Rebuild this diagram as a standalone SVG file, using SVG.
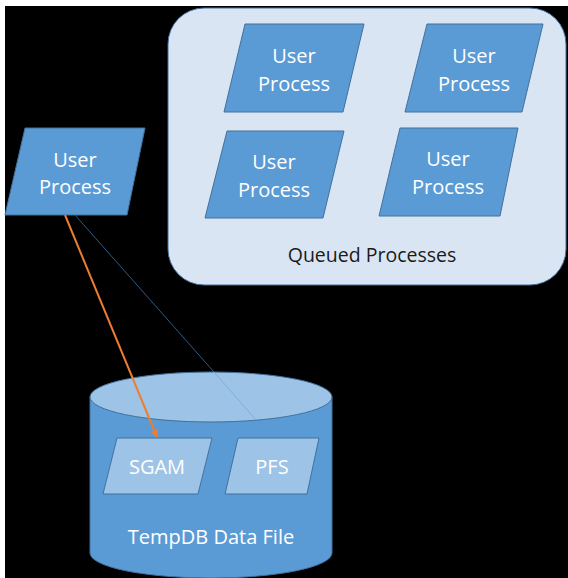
<svg xmlns="http://www.w3.org/2000/svg" width="568" height="578" viewBox="0 0 568 578">
  <defs>
    <style>
      .proc { fill: #5B9BD5; stroke: #41719C; stroke-width: 1; }
      .page { fill: #9DC3E6; stroke: #41719C; stroke-width: 1; }
      .lbl { font-family: "Open Sans", "Liberation Sans", sans-serif; font-size: 20px; fill: #FFFFFF; text-anchor: middle; }
      .dark { fill: #1A1A1A; font-size: 19.5px; }
    </style>
    <marker id="arrOrange" viewBox="0 0 10 10" refX="9" refY="5" markerWidth="4" markerHeight="4" orient="auto">
      <path d="M0,0 L10,5 L0,10 z" fill="#ED7D31"/>
    </marker>
  </defs>

  <rect x="0" y="0" width="568" height="578" fill="#FFFFFF"/>
  <rect x="5" y="6" width="563" height="572" fill="#000000"/>

  <g id="queue">
    <rect x="168" y="8" width="398" height="277" rx="36" ry="36" fill="#DAE5F3" stroke="#41719C" stroke-width="1"/>
    <text class="lbl dark" x="372" y="262">Queued Processes</text>
  </g>

  <g id="q1">
    <polygon class="proc" points="245,24 364,24 343,112 224,112"/>
    <text class="lbl" x="294" y="63">User</text>
    <text class="lbl" x="294" y="91">Process</text>
  </g>
  <g id="q2">
    <polygon class="proc" points="427,24 543,24 522,112 405,112"/>
    <text class="lbl" x="474" y="63">User</text>
    <text class="lbl" x="474" y="91">Process</text>
  </g>
  <g id="q3">
    <polygon class="proc" points="227,131 344,131 323,218 205,218"/>
    <text class="lbl" x="274" y="169">User</text>
    <text class="lbl" x="274" y="197">Process</text>
  </g>
  <g id="q4">
    <polygon class="proc" points="400,128 518,128 500,216 379,216"/>
    <text class="lbl" x="448" y="166">User</text>
    <text class="lbl" x="448" y="194">Process</text>
  </g>

  <g id="user">
    <polygon class="proc" points="25,128 145,128 127,215 5,215"/>
    <text class="lbl" x="75" y="167">User</text>
    <text class="lbl" x="75" y="194">Process</text>
  </g>

  <g id="connectors-back">
    <line x1="75" y1="215" x2="214" y2="372" stroke="#2E5A8A" stroke-width="1"/>
  </g>

  <g id="tempdb">
    <path d="M90,397 L90,553 A121,25 0 0 0 332,553 L332,397 Z" fill="#5B9BD5" stroke="#41719C" stroke-width="1"/>
    <ellipse cx="211" cy="397" rx="121" ry="25" fill="#9DC3E6" stroke="#41719C" stroke-width="1"/>
    <text class="lbl" x="211" y="544">TempDB Data File</text>
  </g>

  <g id="connectors">
    <line x1="214" y1="372" x2="256" y2="420" stroke="#7FAEDD" stroke-width="1"/>
  </g>

  <g id="sgam">
    <polygon class="page" points="117,438 212,438 198,494 103,494"/>
    <text class="lbl" x="157" y="474">SGAM</text>
  </g>
  <g id="pfs">
    <polygon class="page" points="238,438 319,438 307,494 225,494"/>
    <text class="lbl" x="272" y="474">PFS</text>
  </g>

  <g id="connectors-front">
    <line x1="65" y1="215" x2="157" y2="437" stroke="#ED7D31" stroke-width="2" marker-end="url(#arrOrange)"/>
  </g>
</svg>
